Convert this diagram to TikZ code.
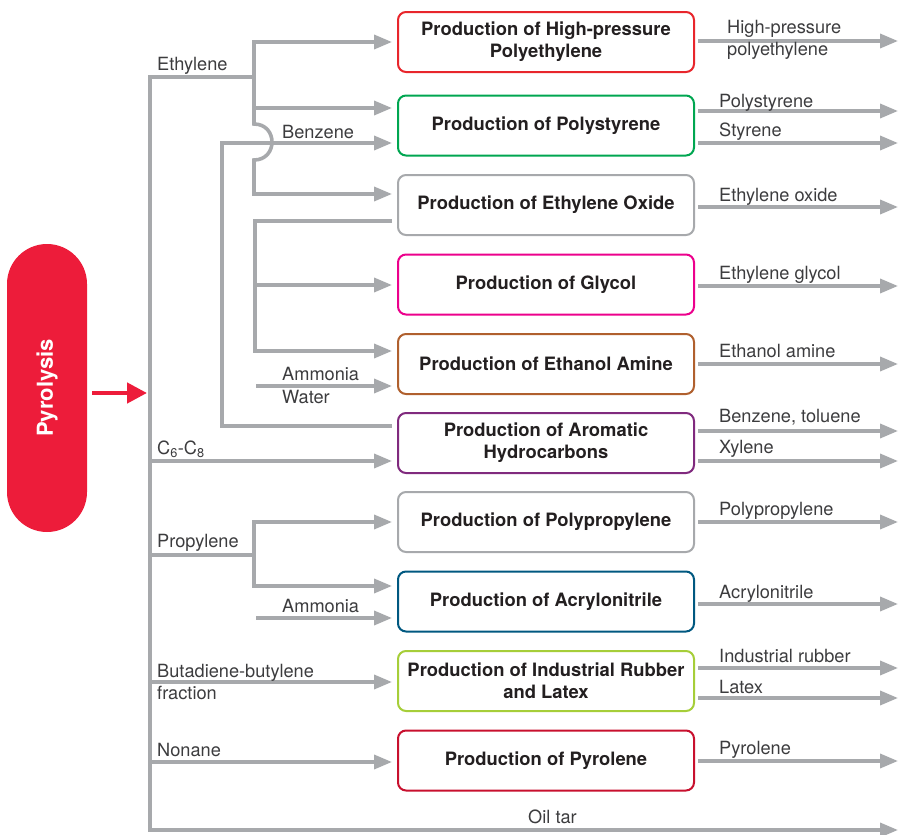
\documentclass[tikz,border=0pt]{standalone}
\usepackage{fontspec}
\setmainfont{TeX Gyre Heros}
\usepackage{graphicx}
\usetikzlibrary{arrows.meta}
\definecolor{ln}{RGB}{167,169,172}
\definecolor{txt}{RGB}{35,31,32}
\definecolor{lbltxt}{RGB}{60,60,62}
\definecolor{pyred}{RGB}{237,28,58}
\definecolor{cA}{RGB}{232,38,44}
\definecolor{cB}{RGB}{0,166,81}
\definecolor{cC}{RGB}{167,169,172}
\definecolor{cD}{RGB}{236,0,140}
\definecolor{cE}{RGB}{176,96,46}
\definecolor{cF}{RGB}{128,42,126}
\definecolor{cG}{RGB}{0,88,128}
\definecolor{cH}{RGB}{166,206,57}
\definecolor{cI}{RGB}{200,16,46}
\begin{document}
\begin{tikzpicture}[x=1pt,y=-1pt,
  conn/.style={draw=ln,line width=3.6pt},
  arr/.style={conn,-{Triangle[length=18pt,width=14pt]}},
  inarr/.style={arr,shorten >=5pt},
  outarr/.style={arr,shorten <=3pt},
  proc/.style={draw=#1,line width=2pt,rounded corners=8pt,minimum width=296pt,
    minimum height=60pt,align=center,inner sep=0pt,fill=white,text=txt,
    font=\fontsize{18.4}{22}\selectfont\bfseries},
  lbl/.style={anchor=base west,inner sep=0pt,text=lbltxt,font=\fontsize{18.2}{22}\selectfont},
  pill/.style={fill=pyred,rounded corners=40pt,minimum width=80pt,minimum height=288pt,
    inner sep=0pt,text=white,font=\fontsize{22}{26}\selectfont\bfseries},
  redarr/.style={draw=pyred,line width=4.5pt,-{Triangle[length=20pt,width=20pt]}}]
\useasboundingbox (0,0) rectangle (898,835);

% Pyrolysis
\node[pill] (pyr) at (47,388) {\rotatebox{90}{Pyrolysis}};
\coordinate (ra) at (147,393);
\draw[redarr,shorten <=5pt] (ra -| pyr.east) -- (ra);

% process boxes
\node[proc=cA] (b1) at (546,42) {Production of High-pressure\\Polyethylene};
\node[proc=cB] (b2) at (546,125.5) {Production of Polystyrene};
\node[proc=cC] (b3) at (546,205) {Production of Ethylene Oxide};
\node[proc=cD] (b4) at (546,284.5) {Production of Glycol};
\node[proc=cE] (b5) at (546,364) {Production of Ethanol Amine};
\node[proc=cF] (b6) at (546,443) {Production of Aromatic\\Hydrocarbons};
\node[proc=cC] (b7) at (546,522) {Production of Polypropylene};
\node[proc=cG] (b8) at (546,601.5) {Production of Acrylonitrile};
\node[proc=cH] (b9) at (546,681) {Production of Industrial Rubber\\and Latex};
\node[proc=cI] (b10) at (546,760.5) {Production of Pyrolene};

% coordinates
\coordinate (eth) at (254,77);
\coordinate (i1) at (254,42);
\coordinate (i2a) at (254,108);
\coordinate (i2b) at (222,143);
\coordinate (i3) at (254,194);
\coordinate (o3) at (255,221);
\coordinate (i4) at (255,285);
\coordinate (i5a) at (255,351);
\coordinate (i5b) at (256,386);
\coordinate (o6) at (222,426);
\coordinate (i6) at (150,461);
\coordinate (pro) at (254,555);
\coordinate (i7) at (254,522);
\coordinate (i8a) at (254,586);
\coordinate (i8b) at (256,618);
\coordinate (i9) at (150,682);
\coordinate (i10) at (150,762);
\coordinate (tr) at (150,77);
\coordinate (tb) at (150,830);
\coordinate (oil) at (898,830);

% trunk and oil tar
\draw[arr,line join=miter] (eth) -- (tr) -- (tb) -- (oil);

% ethylene branch
\draw[inarr] (eth) -- (i1) -- (i1 -| b1.west);
\draw[inarr] (eth) -- (i2a) -- (i2a -| b2.west);
\draw[inarr] (i2a) -- (254,124) .. controls (278,124) and (278,160) .. (254,160) -- (i3) -- (i3 -| b3.west);

% benzene from aromatics
\draw[inarr,shorten <=5pt] (o6 -| b6.west) -- (o6) -- (i2b) -- (i2b -| b2.west);

% ethylene oxide to glycol / ethanol amine
\draw[inarr,shorten <=5pt] (o3 -| b3.west) -- (o3) -- (i5a) -- (i5a -| b5.west);
\draw[inarr] (i4) -- (i4 -| b4.west);
\draw[inarr] (i5b) -- (i5b -| b5.west);

% C6-C8
\draw[inarr] (i6) -- (i6 -| b6.west);

% propylene
\draw[conn] (tr |- pro) -- (pro);
\draw[inarr] (pro) -- (i7) -- (i7 -| b7.west);
\draw[inarr] (pro) -- (i8a) -- (i8a -| b8.west);
\draw[inarr] (i8b) -- (i8b -| b8.west);

% butadiene, nonane
\draw[inarr] (i9) -- (i9 -| b9.west);
\draw[inarr] (i10) -- (i10 -| b10.west);

% outputs
\foreach \b/\y/\n in {b1/41/p1,b2/111/p2,b2/143/p3,b3/207/p4,b4/286/p5,b5/364/p6,b6/431/p7,b6/461/p8,b7/522/p9,b8/604/p10,b9/668/p11,b9/698/p12,b10/761/p13}{
  \coordinate (\n) at (898,\y);
  \draw[outarr] (\n -| \b.east) -- (\n);
}

% left labels
\node[lbl] (lEth) at (157,70) {Ethylene};
\node[lbl] (lBen) at (282,138) {Benzene};
\node[lbl] (lAm1) at (282,380) {Ammonia};
\node[lbl] (lWat) at (282,403) {Water};
\node[lbl] (lC) at (157,454) {C\textsubscript{6}-C\textsubscript{8}};
\node[lbl] (lPro) at (157,547) {Propylene};
\node[lbl] (lAm2) at (282,612) {Ammonia};
\node[lbl] (lBut) at (157,677) {Butadiene-butylene};
\node[lbl] (lFra) at (157,699) {fraction};
\node[lbl] (lNon) at (157,756) {Nonane};
\node[lbl] (lOil) at (528,823) {Oil tar};

% right labels
\node[lbl] (r1a) at (727,33) {High-pressure};
\node[lbl] (r1b) at (727,55) {polyethylene};
\node[lbl] (r2) at (719,107) {Polystyrene};
\node[lbl] (r3) at (719,136) {Styrene};
\node[lbl] (r4) at (719,201) {Ethylene oxide};
\node[lbl] (r5) at (719,279) {Ethylene glycol};
\node[lbl] (r6) at (719,357) {Ethanol amine};
\node[lbl] (r7) at (719,422) {Benzene, toluene};
\node[lbl] (r8) at (719,453) {Xylene};
\node[lbl] (r9) at (719,515) {Polypropylene};
\node[lbl] (r10) at (719,598) {Acrylonitrile};
\node[lbl] (r11) at (719,662) {Industrial rubber};
\node[lbl] (r12) at (719,693) {Latex};
\node[lbl] (r13) at (719,754) {Pyrolene};
\end{tikzpicture}
\end{document}
